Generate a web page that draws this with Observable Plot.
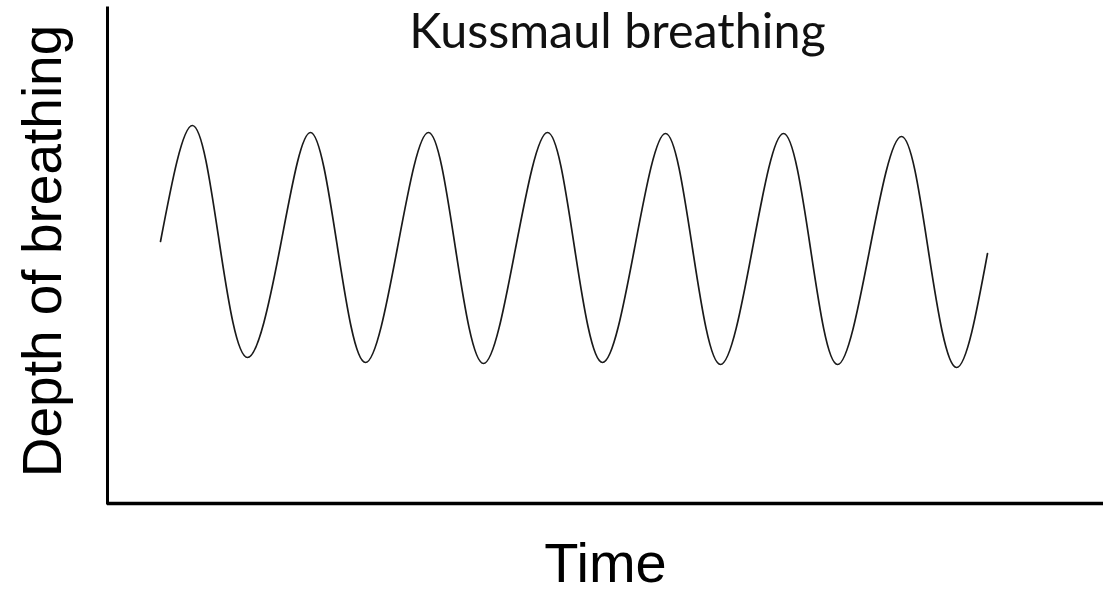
<!DOCTYPE html>
<html><head><meta charset="utf-8">
<script src="https://cdn.jsdelivr.net/npm/d3@7"></script>
<script src="https://cdn.jsdelivr.net/npm/@observablehq/plot@0.6"></script>
<style>body{margin:0;background:#fff}</style>
</head><body><div id="chart"></div>
<script>
const title = "Kussmaul breathing";
const xLabel = "Time";
const yLabel = "Depth of breathing";
// time (arbitrary units) and depth of breathing (arbitrary units)
const time  = [53, 85, 112, 140, 173, 203, 230, 258, 290, 321, 348, 376, 408, 440, 467, 495, 527, 558, 585, 613, 645, 676, 703, 730, 762, 794, 821, 849, 880];
const depth = [262, 378, 260, 146, 258, 371, 256, 141, 256, 371, 255, 140, 255, 371, 256, 141, 255, 370, 255, 139, 255, 370, 255, 139, 253, 367, 252, 136, 250];
const data = time.map((t, i) => ({t, d: depth[i]}));

const chart = Plot.plot({
  width: 1103, height: 593,
  marginTop: 8, marginBottom: 90, marginLeft: 107, marginRight: 0,
  style: {background: "#fff", overflow: "visible"},
  x: {domain: [0, 996], axis: null},
  y: {domain: [0, 495], axis: null},
  marks: [
    Plot.line(data, {x: "t", y: "d", curve: "natural", stroke: "#1a1a1a", strokeWidth: 1.7}),
    Plot.ruleX([0], {stroke: "#000", strokeWidth: 3, strokeLinecap: "square"}),
    Plot.ruleY([0], {stroke: "#000", strokeWidth: 3.5}),
    Plot.text([title], {text: d => d, frameAnchor: "top", dx: 12, dy: 39, lineAnchor: "bottom",
      fontFamily: "Lato", fontSize: 48.5, fill: "#111"}),
    Plot.text([xLabel], {text: d => d, frameAnchor: "bottom", dx: 0, dy: 78, lineAnchor: "bottom",
      fontFamily: "Liberation Sans", fontSize: 56, fill: "#000"}),
    Plot.text([yLabel], {text: d => d, frameAnchor: "left", rotate: -90, dx: -47, dy: -5, lineAnchor: "bottom",
      textAnchor: "middle", fontFamily: "Liberation Sans", fontSize: 55, fill: "#000"})
  ]
});
document.getElementById("chart").appendChild(chart);
</script>
</body></html>
